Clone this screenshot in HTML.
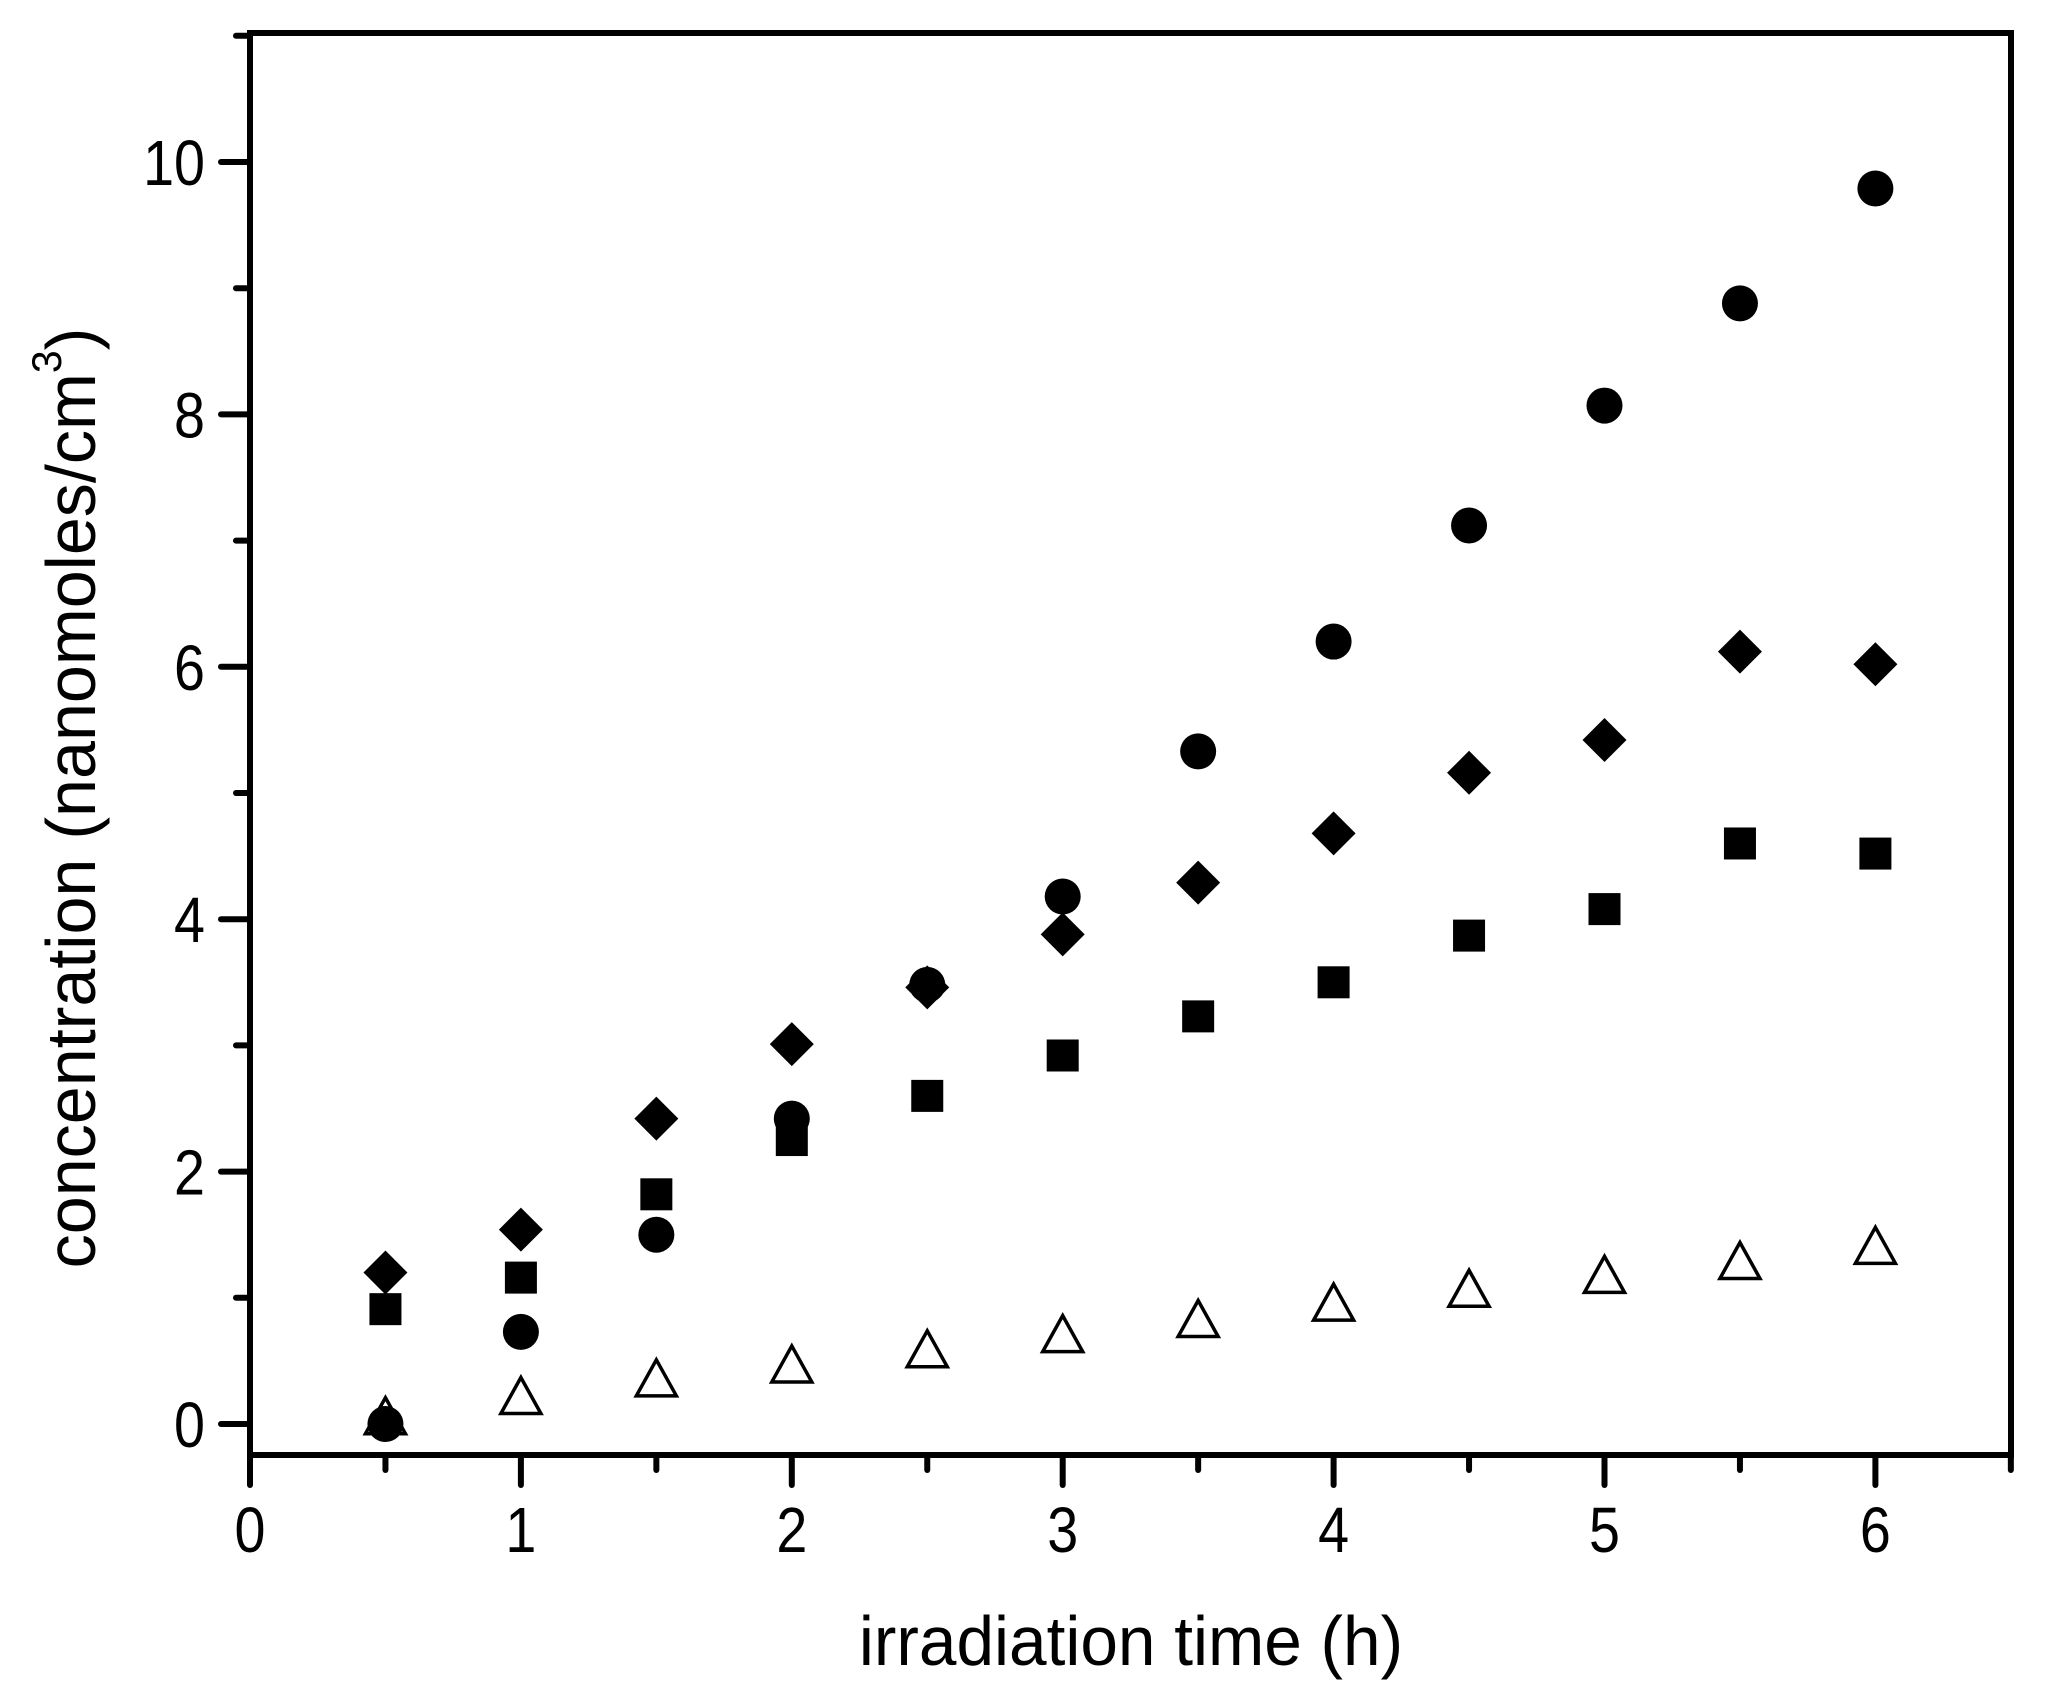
<!DOCTYPE html>
<html><head><meta charset="utf-8"><style>
html,body{margin:0;padding:0;background:#fff;}
svg{display:block;}
text{font-family:"Liberation Sans",Arial,sans-serif;fill:#000;}
</style></head><body>
<svg width="2060" height="1702" viewBox="0 0 2060 1702" xmlns="http://www.w3.org/2000/svg">
<rect x="250" y="33" width="1761" height="1422" fill="none" stroke="#000" stroke-width="6"/>
<g stroke="#000" stroke-width="6" stroke-linecap="round" id="ticks"></g>
<g font-size="64" text-anchor="end" id="ylab"></g>
<g font-size="64" text-anchor="middle" id="xlab"></g>
<text transform="translate(1131,1665) scale(0.965,1)" font-size="70" text-anchor="middle">irradiation time (h)</text>
<text transform="translate(95,798) rotate(-90) scale(0.975,1)" font-size="70" text-anchor="middle">concentration (nanomoles/cm<tspan dy="-34" font-size="42">3</tspan><tspan dy="34">)</tspan></text>
<g id="data"></g>
</svg>
<script>
var ns="http://www.w3.org/2000/svg";
function X(v){return 250+v*270.9;}
function Y(v){return 1424-v*126.2;}
function el(p,t,a,txt){var e=document.createElementNS(ns,t);for(var k in a)e.setAttribute(k,a[k]);if(txt!==undefined)e.textContent=txt;document.getElementById(p).appendChild(e);return e;}
for(var i=0;i<=13;i++){var v=i*0.5,maj=(i%2==0),x=X(v);
 el("ticks","line",{x1:x,y1:1455,x2:x,y2:maj?1485:1470});
 if(maj) el("xlab","text",{transform:"translate("+x+",1552) scale(0.87,1)"},String(v));}
for(var j=0;j<=11;j++){var y=Y(j),maj=(j%2==0);
 el("ticks","line",{x1:250,y1:y,x2:maj?221:236,y2:y});
 if(maj) el("ylab","text",{transform:"translate(205,"+(y+23)+") scale(0.87,1)"},String(j));}
var xs=[0.5,1,1.5,2,2.5,3,3.5,4,4.5,5,5.5,6];
var circ=[0,0.73,1.5,2.42,3.48,4.18,5.33,6.2,7.12,8.07,8.88,9.79];
var dia=[1.2,1.54,2.42,3.01,3.46,3.88,4.29,4.68,5.16,5.42,6.12,6.02];
var sq=[0.91,1.16,1.82,2.25,2.6,2.92,3.23,3.5,3.87,4.08,4.6,4.52];
var tri=[0.05,0.21,0.35,0.46,0.58,0.7,0.82,0.95,1.06,1.17,1.28,1.4];
for(var k=0;k<12;k++){var x=X(xs[k]);
 var y=Y(tri[k]);
 el("data","polygon",{points:(x)+","+(y-20)+" "+(x-20)+","+(y+16)+" "+(x+20)+","+(y+16),fill:"none",stroke:"#000","stroke-width":3.5});
 y=Y(sq[k]); el("data","rect",{x:x-16,y:y-16,width:32,height:32,fill:"#000"});
 y=Y(dia[k]); el("data","polygon",{points:x+","+(y-22)+" "+(x+22)+","+y+" "+x+","+(y+22)+" "+(x-22)+","+y,fill:"#000"});
 y=Y(circ[k]); el("data","circle",{cx:x,cy:y,r:18,fill:"#000"});
}
</script>
</body></html>
